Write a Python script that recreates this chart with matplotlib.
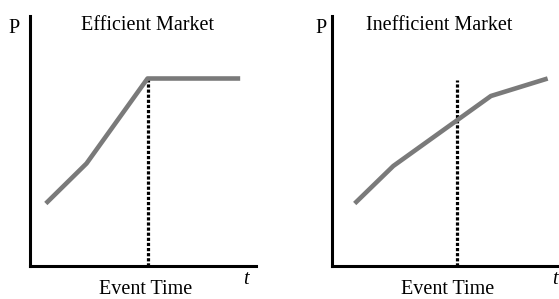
import matplotlib
matplotlib.use("Agg")
import matplotlib.pyplot as plt

plt.rcParams['font.family'] = ['Liberation Serif', 'DejaVu Serif']

# data (time units 0..10, price units 0..10)
eff_t = [0.7, 2.5, 5.2, 9.3]
eff_p = [2.5, 4.1, 7.5, 7.5]
eff_event = 5.2

ineff_t = [1.0, 2.7, 7.0, 9.5]
ineff_p = [2.5, 4.0, 6.8, 7.5]
ineff_event = 5.5
ineff_event_top = 7.45

titles = ["Efficient Market", "Inefficient Market"]

W, H = 559, 299
fig = plt.figure(figsize=(W / 100, H / 100), dpi=100)
fig.patch.set_facecolor('white')


def panel(x0, x1, t, p, ev, ev_top, title, title_x, p_x, t_x):
    ax = fig.add_axes([x0 / W, (H - 266) / H, (x1 - x0) / W, 250 / H])
    ax.set_xlim(0, 10)
    ax.set_ylim(0, 10)
    for s in ['top', 'right']:
        ax.spines[s].set_visible(False)
    for s in ['left', 'bottom']:
        ax.spines[s].set_linewidth(2.2)
        ax.spines[s].set_color('black')
    ax.set_xticks([])
    ax.set_yticks([])
    ax.patch.set_alpha(0)

    ax.plot([ev, ev], [0, ev_top], color='black', lw=2.3,
            linestyle=(0, (1.0, 0.6)), solid_capstyle='butt', zorder=2)
    ax.plot(t, p, color='#7a7a7a', lw=3.3, solid_capstyle='butt',
            solid_joinstyle='round', zorder=3)

    ax.text(title_x, 0.962, title, transform=ax.transAxes, ha='center',
            va='center', fontsize=14.5)
    ax.text(p_x, 0.95, "P", transform=ax.transAxes, ha='center',
            va='center', fontsize=14.5)
    ax.text(0.51, -0.094, "Event Time", transform=ax.transAxes,
            ha='center', va='center', fontsize=14.5)
    ax.text(t_x, -0.056, "t", transform=ax.transAxes, ha='center',
            va='center', fontsize=14.5, style='italic')
    return ax


panel(30, 256, eff_t, eff_p, eff_event, eff_p[2], titles[0], 0.52, -0.07, 0.956)
panel(332, 559, ineff_t, ineff_p, ineff_event, ineff_event_top, titles[1], 0.47, -0.048, 0.98)

fig.savefig("out.png", dpi=100, facecolor='white')
